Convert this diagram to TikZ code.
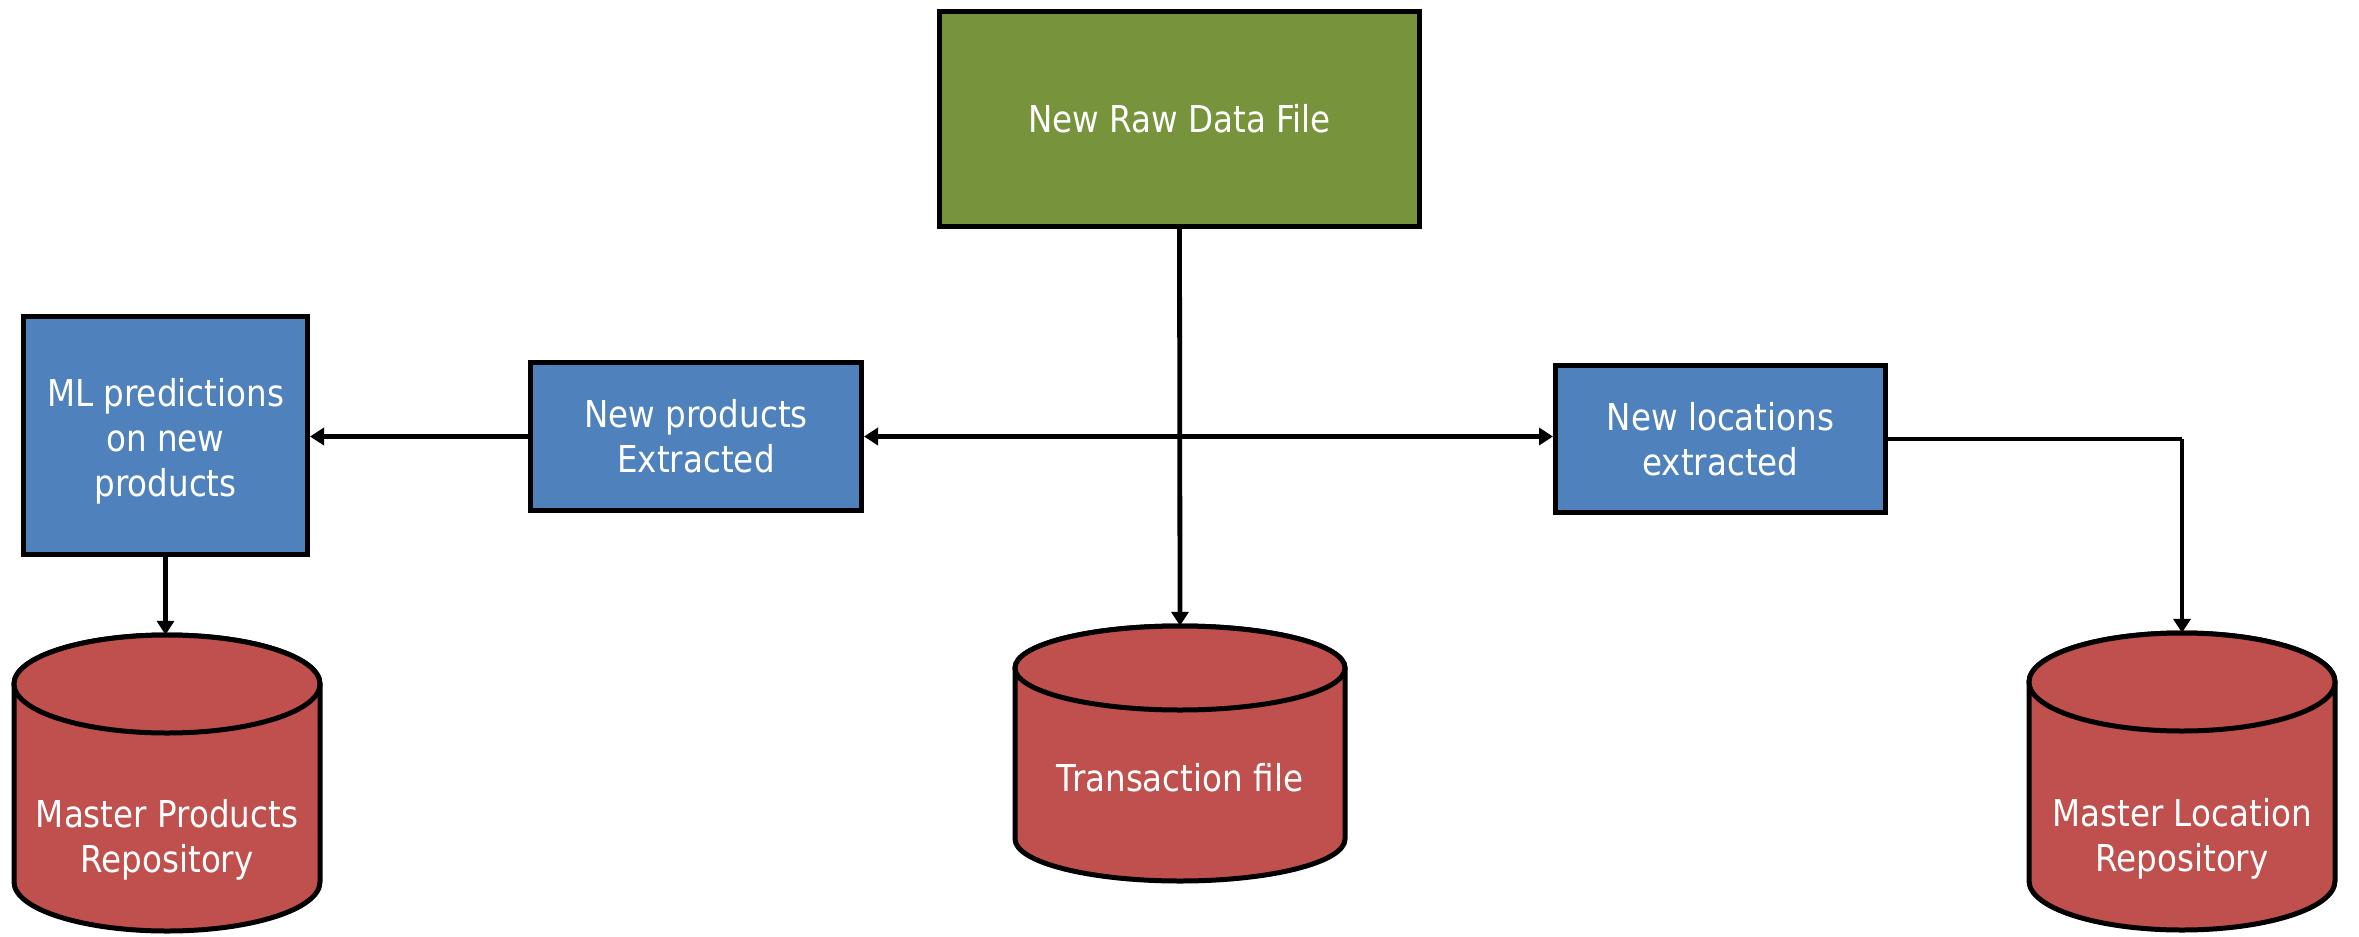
\documentclass[tikz,border=0pt]{standalone}
\usepackage{fontspec}
\setmainfont{DejaVu Sans}[FakeStretch=0.88]
\usetikzlibrary{arrows.meta}
\definecolor{rawgreen}{HTML}{77933C}
\definecolor{procblue}{HTML}{4F81BD}
\definecolor{storered}{HTML}{C0504D}
\tikzset{
  lbl/.style={text=white, font=\fontsize{37}{45}\selectfont, align=center},
  box/.style={draw=black, line width=5pt, lbl, inner sep=0pt},
  rawbox/.style={box, fill=rawgreen},
  procbox/.style={box, fill=procblue},
  storeslot/.style={inner sep=0pt},
  link/.style={draw=black, line width=4.8pt, -{Triangle[length=14pt,width=17pt]}},
  plain/.style={draw=black, line width=4.8pt},
  drum/.style={draw=black, fill=storered, line width=5pt},
}
% database drum: #1 centre x, #2 top y, #3 bottom y, #4 x radius, #5 y radius
\newcommand{\drumshape}[5]{%
  \path[drum] (#1-#4,-#2-#5) -- (#1-#4,-#3+#5)
    arc[start angle=180, end angle=360, x radius=#4, y radius=#5]
    -- (#1+#4,-#2-#5)
    arc[start angle=0, end angle=180, x radius=#4, y radius=#5] -- cycle;
  \path[drum] (#1,-#2-#5) ellipse[x radius=#4, y radius=#5];
}
\begin{document}
\begin{tikzpicture}[x=1pt,y=1pt]
\useasboundingbox (0,0) rectangle (2359,-937);

% process boxes
\node[rawbox, minimum width=480pt, minimum height=215pt] (raw) at (1179.5,-119) {New Raw Data File};
\node[procbox, minimum width=284pt, minimum height=238pt] (ml) at (165.5,-435.5) {};
\node[lbl] at ([yshift=-6pt]ml.center) {ML predictions\\on new\\products};
\node[procbox, minimum width=331pt, minimum height=148pt] (np) at (696,-436.5) {New products\\Extracted};
\node[procbox, minimum width=330pt, minimum height=147pt] (nl) at (1720.5,-439) {New locations\\extracted};

% data stores
\drumshape{167}{635}{931}{153}{49}
\drumshape{1180}{626}{881}{165}{42}
\drumshape{2182}{633}{930}{153}{49}
\node[storeslot, minimum width=306pt, minimum height=296pt] (mp) at (167,-783) {};
\node[storeslot, minimum width=330pt, minimum height=255pt] (tf) at (1180,-753.5) {};
\node[storeslot, minimum width=306pt, minimum height=297pt] (mloc) at (2182,-781.5) {};
\node[lbl] at (167,-840) {Master Products\\Repository};
\node[lbl] at (1180,-778) {Transaction file};
\node[lbl] at (2182,-839) {Master Location\\Repository};

% connectors
\coordinate (hub) at (raw.south |- np.east);
\draw[link] (raw.south) -- (tf.north);
\draw[link] (hub) -- (np.east);
\draw[link] (hub) -- (nl.west |- hub);
\draw[link] (np.west) -- (ml.east |- np.west);
\draw[link] (ml.south) -- (mp.north -| ml.south);
\coordinate (turn) at (mloc.north |- nl.east);
\draw[plain] (nl.east) -- (turn);
\draw[link] (turn) -- (mloc.north);
\end{tikzpicture}
\end{document}
